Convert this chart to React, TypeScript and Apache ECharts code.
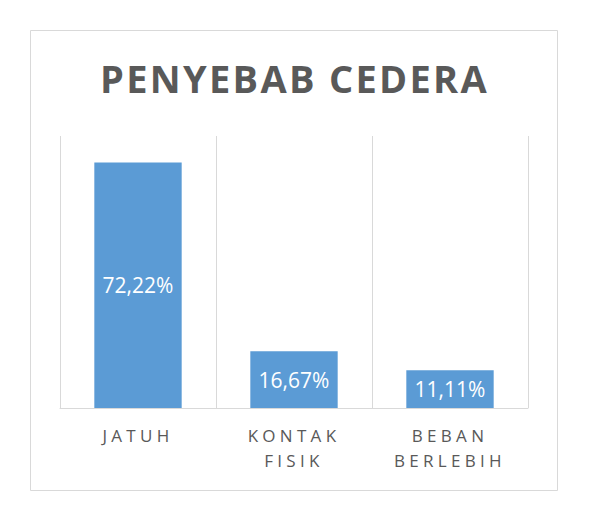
import React, { useEffect, useRef } from 'react';
import * as echarts from 'echarts';

const titleText = 'PENYEBAB CEDERA';
const categories = ['JATUH', 'KONTAK FISIK', 'BEBAN BERLEBIH'];
const values = [72.22, 16.67, 11.11];
const yMin = 0;
const yMax = 80;

const css = `
text[style*="38px"], text[font-size="38"], text[font-size="38px"] { letter-spacing: 2.3px; }
text[style*="17px"], text[font-size="17"], text[font-size="17px"] { letter-spacing: 4.3px; }
`;

export default function App() {
  const ref = useRef<HTMLDivElement>(null);
  useEffect(() => {
    document.body.style.margin = '0';
    const chart = echarts.init(ref.current as HTMLDivElement, null, { renderer: 'svg' });
    chart.setOption({
      animation: false,
      backgroundColor: '#ffffff',
      title: {
        text: titleText,
        left: 'center',
        top: 54,
        textStyle: {
          fontFamily: 'Open Sans',
          fontWeight: 'bold',
          fontSize: 38,
          color: '#595959',
        },
      },
      grid: { left: 60, right: 61, top: 136, bottom: 112 },
      xAxis: {
        type: 'category',
        data: categories,
        axisTick: { show: false },
        axisLine: { lineStyle: { color: '#D9D9D9', width: 1 } },
        splitLine: { show: true, lineStyle: { color: '#D9D9D9', width: 1 } },
        axisLabel: {
          interval: 0,
          formatter: (v: string) => v.replace(' ', '\n'),
          color: '#595959',
          fontFamily: 'Open Sans',
          fontSize: 17,
          lineHeight: 25,
          margin: 15,
        },
      },
      yAxis: { type: 'value', min: yMin, max: yMax, show: false, splitLine: { show: false } },
      series: [
        {
          type: 'bar',
          data: values,
          barWidth: '56%',
          itemStyle: { color: '#5B9BD5' },
          label: {
            show: true,
            position: 'inside',
            color: '#ffffff',
            fontFamily: 'Open Sans',
            fontSize: 21,
            formatter: (p: any) => Number(p.value).toFixed(2).replace('.', ',') + '%',
          },
        },
      ],
      graphic: [
        {
          type: 'rect',
          silent: true,
          shape: { x: 30.5, y: 30.5, width: 527, height: 460 },
          style: { fill: 'none', stroke: '#D9D9D9', lineWidth: 1 },
        },
      ],
    });
    return () => chart.dispose();
  }, []);
  return (
    <>
      <style>{css}</style>
      <div ref={ref} style={{ width: 589, height: 520 }} />
    </>
  );
}
